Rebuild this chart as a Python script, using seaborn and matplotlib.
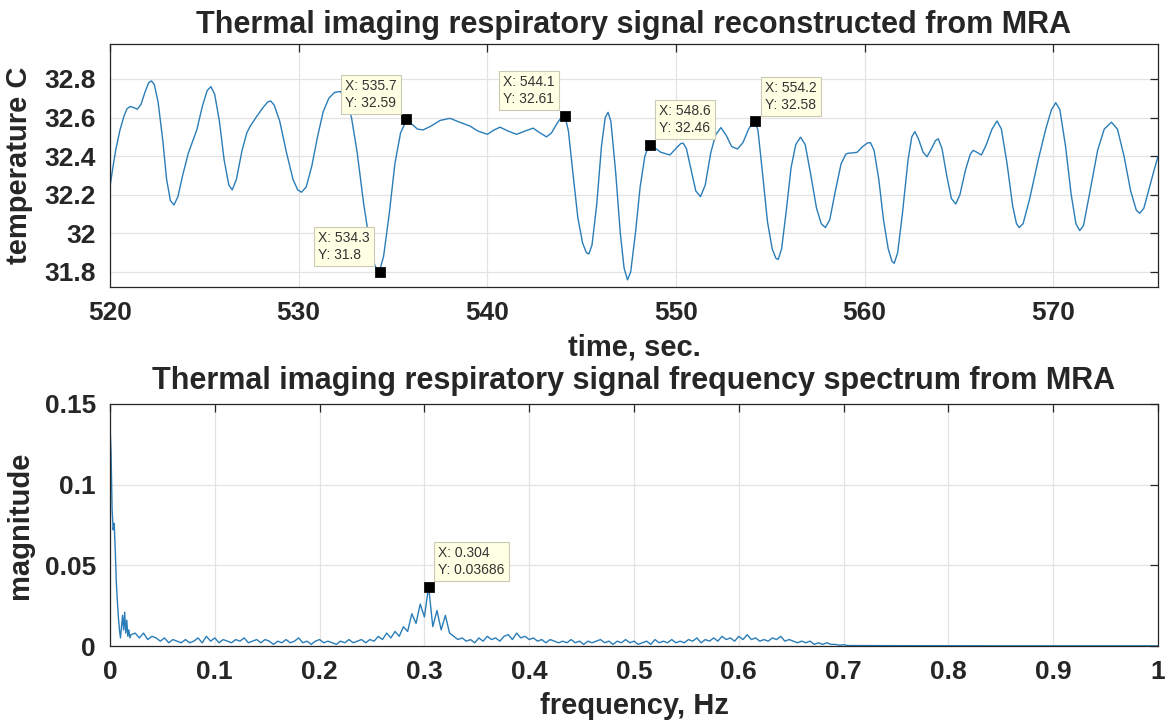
import numpy as np
import pandas as pd
import seaborn as sns
import matplotlib
matplotlib.use("Agg")
import matplotlib.pyplot as plt
from matplotlib.ticker import FuncFormatter, MultipleLocator

# ---------------- data: reconstructed respiratory signal ----------------
time_s = [520.0, 520.15, 520.3, 520.53, 520.75, 520.9, 521.06, 521.25, 521.45, 521.65,
          521.85, 522.05, 522.2, 522.35, 522.55, 522.8, 523.0, 523.2, 523.39, 523.6,
          523.85, 524.15, 524.6, 524.9, 525.15, 525.35, 525.55, 525.8, 526.05, 526.3,
          526.48, 526.7, 527.0, 527.25, 527.42, 527.77, 528.1, 528.35, 528.51, 528.7,
          529.0, 529.35, 529.7, 529.95, 530.15, 530.4, 530.7, 531.0, 531.3, 531.6,
          531.9, 532.2, 532.5, 532.8, 533.1, 533.45, 533.8, 534.05, 534.27, 534.5,
          534.8, 535.1, 535.4, 535.7, 535.95, 536.3, 536.6, 537.0, 537.5, 538.02,
          538.5, 539.08, 539.5, 540.0, 540.35, 540.67, 541.1, 541.55, 542.0, 542.43,
          542.8, 543.14, 543.4, 543.7, 543.95, 544.11, 544.3, 544.55, 544.8, 545.05,
          545.25, 545.38, 545.55, 545.8, 546.05, 546.25, 546.4, 546.55, 546.8, 547.05,
          547.25, 547.43, 547.6, 547.85, 548.1, 548.35, 548.58, 548.85, 549.2, 549.68,
          550.0, 550.25, 550.38, 550.55, 550.8, 551.05, 551.3, 551.55, 551.85, 552.1,
          552.38, 552.65, 552.95, 553.26, 553.55, 553.85, 554.1, 554.21, 554.35, 554.6,
          554.85, 555.1, 555.3, 555.42, 555.6, 555.85, 556.1, 556.35, 556.6, 556.85,
          557.15, 557.45, 557.7, 557.92, 558.15, 558.45, 558.75, 559.0, 559.13, 559.4,
          559.6, 559.9, 560.15, 560.31, 560.5, 560.75, 561.0, 561.25, 561.45, 561.57,
          561.75, 562.0, 562.3, 562.5, 562.66, 562.85, 563.1, 563.31, 563.55, 563.75,
          563.9, 564.1, 564.35, 564.6, 564.83, 565.05, 565.35, 565.6, 565.75, 565.95,
          566.19, 566.45, 566.75, 567.02, 567.25, 567.55, 567.85, 568.05, 568.19, 568.4,
          568.75, 569.2, 569.6, 569.9, 570.13, 570.35, 570.65, 570.95, 571.2, 571.4,
          571.6, 571.95, 572.35, 572.7, 573.08, 573.4, 573.75, 574.1, 574.4, 574.58,
          574.8, 575.1, 575.35, 575.55]
temperature_c = [32.242, 32.34, 32.43, 32.536, 32.61, 32.645, 32.657, 32.652, 32.643, 32.67,
                 32.73, 32.78, 32.79, 32.77, 32.68, 32.48, 32.28, 32.17, 32.147, 32.19,
                 32.30, 32.415, 32.536, 32.66, 32.74, 32.76, 32.72, 32.58, 32.38, 32.25,
                 32.225, 32.28, 32.43, 32.52, 32.553, 32.605, 32.65, 32.68, 32.686, 32.665,
                 32.58, 32.42, 32.28, 32.225, 32.213, 32.24, 32.35, 32.50, 32.63, 32.70,
                 32.73, 32.735, 32.70, 32.60, 32.42, 32.15, 31.93, 31.83, 31.80, 31.88,
                 32.10, 32.36, 32.52, 32.584, 32.57, 32.54, 32.536, 32.555, 32.585, 32.596,
                 32.577, 32.556, 32.53, 32.513, 32.535, 32.55, 32.53, 32.513, 32.53, 32.545,
                 32.52, 32.50, 32.52, 32.57, 32.605, 32.61, 32.53, 32.30, 32.08, 31.95,
                 31.90, 31.893, 31.94, 32.15, 32.45, 32.60, 32.627, 32.58, 32.32, 32.00,
                 31.82, 31.759, 31.80, 32.00, 32.24, 32.40, 32.46, 32.445, 32.42, 32.406,
                 32.44, 32.465, 32.467, 32.44, 32.33, 32.22, 32.19, 32.25, 32.42, 32.51,
                 32.548, 32.51, 32.45, 32.437, 32.47, 32.54, 32.58, 32.584, 32.53, 32.30,
                 32.06, 31.92, 31.87, 31.865, 31.92, 32.12, 32.34, 32.46, 32.498, 32.46,
                 32.30, 32.13, 32.05, 32.03, 32.07, 32.22, 32.36, 32.41, 32.415, 32.417,
                 32.42, 32.45, 32.468, 32.47, 32.43, 32.28, 32.07, 31.92, 31.855, 31.845,
                 31.90, 32.10, 32.38, 32.50, 32.527, 32.49, 32.42, 32.397, 32.44, 32.48,
                 32.49, 32.44, 32.30, 32.18, 32.152, 32.20, 32.33, 32.41, 32.43, 32.42,
                 32.406, 32.46, 32.54, 32.582, 32.54, 32.36, 32.14, 32.05, 32.03, 32.05,
                 32.18, 32.38, 32.54, 32.64, 32.677, 32.64, 32.45, 32.20, 32.05, 32.014,
                 32.04, 32.22, 32.43, 32.54, 32.576, 32.54, 32.40, 32.22, 32.12, 32.104,
                 32.13, 32.24, 32.33, 32.397]

tip_time = [534.3, 535.7, 544.1, 548.6, 554.2]
tip_temp = [31.8, 32.59, 32.61, 32.46, 32.58]
tip_side = ["left", "left", "left", "right", "right"]

# ---------------- data: frequency spectrum ----------------
freq_low_hz = [0.000, 0.001, 0.002, 0.003, 0.004, 0.005, 0.006, 0.007, 0.008, 0.009,
               0.010, 0.011, 0.012, 0.013, 0.014, 0.015, 0.016, 0.017, 0.018, 0.019, 0.020]
mag_low = [0.137, 0.120, 0.085, 0.072, 0.076, 0.060, 0.040, 0.028, 0.018, 0.010,
           0.005, 0.012, 0.019, 0.010, 0.021, 0.008, 0.016, 0.006, 0.010, 0.005, 0.007]

# FFT bins from 0.024 Hz with 0.004 Hz spacing
bin_start_hz = 0.024
bin_step_hz = 0.004
mag_bins = [0.008, 0.005, 0.008, 0.004, 0.006, 0.005, 0.003, 0.005, 0.002, 0.004,
            0.003, 0.002, 0.004, 0.002, 0.003, 0.005, 0.002, 0.006, 0.003, 0.005,
            0.002, 0.004, 0.003, 0.002, 0.004, 0.003, 0.005, 0.002, 0.003, 0.004,
            0.002, 0.004, 0.003, 0.001, 0.003, 0.002, 0.004, 0.002, 0.003, 0.005,
            0.002, 0.003, 0.001, 0.003, 0.004, 0.002, 0.003, 0.002, 0.001, 0.003,
            0.002, 0.004, 0.002, 0.003, 0.004, 0.002, 0.004, 0.003, 0.006, 0.004,
            0.008, 0.005, 0.009, 0.006, 0.012, 0.009, 0.020, 0.014, 0.026, 0.018,
            0.03686, 0.012, 0.022, 0.010, 0.019, 0.008, 0.006, 0.004, 0.005, 0.003,
            0.004, 0.002, 0.005, 0.003, 0.006, 0.004, 0.005, 0.003, 0.006, 0.007,
            0.004, 0.008, 0.005, 0.006, 0.004, 0.005, 0.003, 0.004, 0.002, 0.004,
            0.003, 0.002, 0.003, 0.002, 0.004, 0.002, 0.003, 0.001, 0.003, 0.002,
            0.003, 0.004, 0.002, 0.003, 0.001, 0.003, 0.002, 0.004, 0.002, 0.003,
            0.001, 0.002, 0.003, 0.001, 0.004, 0.002, 0.003, 0.002, 0.004, 0.002,
            0.003, 0.002, 0.004, 0.003, 0.005, 0.002, 0.004, 0.003, 0.005, 0.003,
            0.006, 0.004, 0.005, 0.003, 0.006, 0.004, 0.007, 0.004, 0.005, 0.003,
            0.004, 0.003, 0.005, 0.004, 0.006, 0.003, 0.004, 0.003, 0.002, 0.003,
            0.002, 0.003, 0.001, 0.002, 0.001, 0.002, 0.001, 0.001, 0.0005, 0.0008,
            0.0003]
freq_tail_hz = [0.75, 0.85, 1.0]
mag_tail = [0.0002, 0.0001, 0.0001]

tip_freq = [0.304]
tip_mag = [0.03686]

# ---------------- styling ----------------
sns.set_style("white")
plt.rcParams["font.family"] = ["Liberation Sans", "DejaVu Sans"]

LINE = "#2A7DB8"
TXT = "#262626"

fig = plt.figure(figsize=(11.72, 7.22), dpi=100)
ax1 = fig.add_axes([110 / 1172, 1 - 287 / 722, 1048 / 1172, 243 / 722])
ax2 = fig.add_axes([110 / 1172, 1 - 646 / 722, 1048 / 1172, 242 / 722])

sig = pd.DataFrame({"t": time_s, "v": temperature_c})
sns.lineplot(data=sig, x="t", y="v", ax=ax1, color=LINE, lw=1.0, sort=False)

freqs = list(freq_low_hz) + [bin_start_hz + bin_step_hz * i for i in range(len(mag_bins))] + freq_tail_hz
mags = list(mag_low) + list(mag_bins) + mag_tail
spec = pd.DataFrame({"f": freqs, "m": mags})
sns.lineplot(data=spec, x="f", y="m", ax=ax2, color=LINE, lw=1.0, sort=False)


def fmt(v, pos):
    return "%g" % round(v, 6)


def style(ax):
    ax.grid(True, color="#E3E3E3", lw=0.9)
    ax.set_axisbelow(True)
    for s in ax.spines.values():
        s.set_visible(True)
        s.set_color(TXT)
        s.set_linewidth(0.9)
    ax.tick_params(direction="in", length=6, width=0.9, color=TXT,
                   top=True, right=True, labelsize=19, labelcolor=TXT, pad=10)
    ax.xaxis.set_major_formatter(FuncFormatter(fmt))
    ax.yaxis.set_major_formatter(FuncFormatter(fmt))


ax1.set_xlim(520, 575.55)
ax1.set_ylim(31.722, 32.981)
ax1.xaxis.set_major_locator(MultipleLocator(10))
ax1.yaxis.set_major_locator(MultipleLocator(0.2))
ax2.set_xlim(0, 1)
ax2.set_ylim(0, 0.15)
ax2.xaxis.set_major_locator(MultipleLocator(0.1))
ax2.yaxis.set_major_locator(MultipleLocator(0.05))

for ax in (ax1, ax2):
    style(ax)
    for lab in ax.get_xticklabels() + ax.get_yticklabels():
        lab.set_fontweight("bold")

ax1.set_title("Thermal imaging respiratory signal reconstructed from MRA",
              fontsize=22, fontweight="bold", color=TXT, pad=8)
ax2.set_title("Thermal imaging respiratory signal frequency spectrum from MRA",
              fontsize=22, fontweight="bold", color=TXT, pad=11)
ax1.set_xlabel("time, sec.", fontsize=21, fontweight="bold", color=TXT, labelpad=6)
ax1.set_ylabel("temperature C", fontsize=21, fontweight="bold", color=TXT, labelpad=8)
ax2.set_xlabel("frequency, Hz", fontsize=21, fontweight="bold", color=TXT, labelpad=6)
ax2.set_ylabel("magnitude", fontsize=21, fontweight="bold", color=TXT, labelpad=8)

# data tips
sns.scatterplot(x=tip_time, y=tip_temp, ax=ax1, marker="s", s=46, color="black",
                edgecolor="black", zorder=5, legend=False)
sns.scatterplot(x=tip_freq, y=tip_mag, ax=ax2, marker="s", s=46, color="black",
                edgecolor="black", zorder=5, legend=False)

box = dict(boxstyle="square,pad=0.3", fc="#FFFFE4", ec="#C9C9B5", lw=0.8)


def tip(ax, x, y, side, xlab, ylab):
    dx = -7 if side == "left" else 7
    ax.annotate("X: %s\nY: %s" % (xlab, ylab), xy=(x, y), xytext=(dx, 7),
                textcoords="offset points", ha="right" if side == "left" else "left",
                va="bottom", multialignment="left", fontsize=10, color="#333333",
                bbox=box, linespacing=1.25, zorder=6)


for x, y, sd in zip(tip_time, tip_temp, tip_side):
    tip(ax1, x, y, sd, "%g" % x, "%g" % y)
for x, y in zip(tip_freq, tip_mag):
    tip(ax2, x, y, "right", "%g" % x, "%g" % y)

fig.savefig("out.png", dpi=100)
